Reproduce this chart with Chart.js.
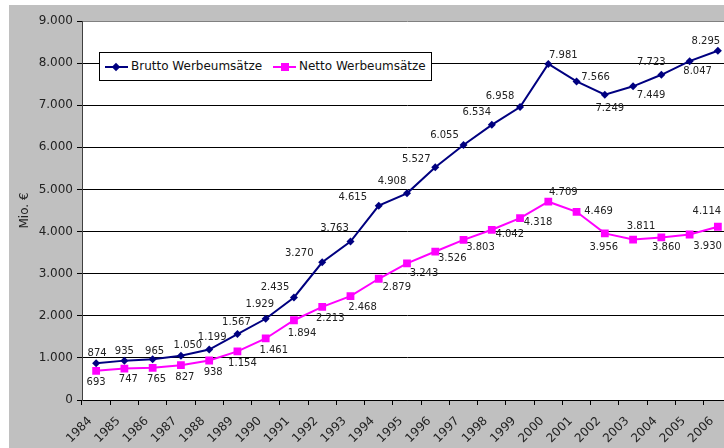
<!DOCTYPE html>
<html>
<head>
<meta charset="utf-8">
<script src="https://cdn.jsdelivr.net/npm/chart.js@4.4.1/dist/chart.umd.min.js"></script>
<style>
  html, body { margin: 0; padding: 0; background: #fff; overflow: hidden; }
  #wrap { position: relative; width: 724px; height: 448px; overflow: hidden; }
  #chart { position: absolute; left: 0; top: 0; }
  #legend {
    position: absolute; left: 99px; top: 52px; width: 331px; height: 27px;
    border: 1px solid #000; background: #fff;
    font: 12px "DejaVu Sans", Verdana, sans-serif; color: #111;
  }
  .item { position: absolute; top: 0; height: 27px; line-height: 27px; white-space: nowrap; }
  .sample { position: absolute; top: 13px; width: 23px; height: 2px; }
  .mark { position: absolute; }
  .label { position: absolute; top: 0; }
</style>
</head>
<body>
<div id="wrap">
  <canvas id="chart" width="740" height="448"></canvas>
  <div id="legend"></div>
</div>
<script>
// Werbeumsätze in Mio. €
const years = ["1984", "1985", "1986", "1987", "1988", "1989", "1990", "1991", "1992", "1993", "1994", "1995",
  "1996", "1997", "1998", "1999", "2000", "2001", "2002", "2003", "2004", "2005", "2006"];
const brutto = [874, 935, 965, 1050, 1199, 1567, 1929, 2435, 3270, 3763, 4615, 4908,
  5527, 6055, 6534, 6958, 7981, 7566, 7249, 7449, 7723, 8047, 8295];
const netto = [693, 747, 765, 827, 938, 1154, 1461, 1894, 2213, 2468, 2879, 3243,
  3526, 3803, 4042, 4318, 4709, 4469, 3956, 3811, 3860, 3930, 4114];
const yTicks = [0, 1000, 2000, 3000, 4000, 5000, 6000, 7000, 8000, 9000];

// where each value label sits relative to its point (px)
const bruttoLabelPos = [[1, -10], [0, -9], [2, -8], [7, -10], [3, -12], [-1, -12], [-6, -14], [-19, -10],
  [-23, -9], [-16, -13], [-26, -8], [-15, -12], [-19, -8], [-19, -10], [-15, -12], [-20, -11],
  [15, -9], [19, -4], [5, 14], [18, 9], [-10, -12], [8, 10], [-12, -9]];
const nettoLabelPos = [[0, 12], [4, 11], [4, 12], [4, 12], [4, 12], [5, 12], [8, 12], [8, 13],
  [8, 12], [12, 11], [18, 9], [17, 10], [17, 7], [17, 8], [18, 5], [18, 4],
  [15, -9], [22, 0], [-1, 14], [8, -13], [5, 10], [18, 12], [-11, -15]];

const FONT = "'DejaVu Sans', Verdana, sans-serif";

function fmt(v) {
  return String(v).replace(/\B(?=(\d{3})+(?!\d))/g, ".");
}

const backgroundPlugin = {
  id: "background",
  beforeDraw(chart) {
    const { ctx, chartArea } = chart;
    ctx.save();
    ctx.fillStyle = "#C0C0C0";
    ctx.fillRect(9, 5, chart.width, chart.height);
    ctx.fillStyle = "#FFFFFF";
    ctx.fillRect(chartArea.left, chartArea.top, chartArea.right - chartArea.left, chartArea.bottom - chartArea.top);
    ctx.restore();
  },
};

const valueLabels = {
  id: "valueLabels",
  afterDatasetsDraw(chart) {
    const ctx = chart.ctx;
    ctx.save();
    ctx.font = "10px " + FONT;
    ctx.fillStyle = "#222";
    ctx.textAlign = "center";
    ctx.textBaseline = "middle";
    chart.data.datasets.forEach((ds, i) => {
      const meta = chart.getDatasetMeta(i);
      meta.data.forEach((pt, j) => {
        const off = ds.labelPos[j];
        ctx.fillText(fmt(ds.data[j]), pt.x + off[0], pt.y + off[1]);
      });
    });
    ctx.restore();
  },
};

const chart = new Chart(document.getElementById("chart").getContext("2d"), {
  type: "line",
  data: {
    labels: years,
    datasets: [
      {
        label: "Brutto Werbeumsätze",
        data: brutto,
        labelPos: bruttoLabelPos,
        borderColor: "#000080",
        backgroundColor: "#000080",
        borderWidth: 2,
        pointStyle: "rectRot",
        pointRadius: 4,
        pointBorderWidth: 0,
        tension: 0,
      },
      {
        label: "Netto Werbeumsätze",
        data: netto,
        labelPos: nettoLabelPos,
        borderColor: "#FF00FF",
        backgroundColor: "#FF00FF",
        borderWidth: 2,
        pointStyle: "rect",
        pointRadius: 5.5,
        pointBorderWidth: 0,
        tension: 0,
      },
    ],
  },
  options: {
    responsive: false,
    animation: false,
    layout: { padding: { left: 0, top: 21, right: 8, bottom: 0 } },
    plugins: {
      legend: { display: false },
      tooltip: { enabled: false },
    },
    scales: {
      x: {
        offset: true,
        grid: {
          display: true,
          offset: true,
          drawOnChartArea: false,
          tickLength: 5,
          tickColor: "#000",
        },
        border: { color: "#000", width: 1 },
        ticks: {
          autoSkip: false,
          minRotation: 45,
          maxRotation: 45,
          padding: 9,
          labelOffset: -6,
          color: "#222",
          font: { family: FONT, size: 12 },
        },
        afterFit(scale) {
          scale.height = 48;
        },
      },
      y: {
        min: 0,
        max: 9000,
        afterBuildTicks(scale) {
          scale.ticks = yTicks.map((v) => ({ value: v }));
        },
        grid: {
          color: (c) => (c.tick && c.tick.value === 9000 ? "#808080" : "#000"),
          lineWidth: 1,
          tickLength: 5,
          tickColor: "#000",
        },
        border: { color: "#404040", width: 1 },
        ticks: {
          padding: 4,
          color: "#222",
          font: { family: FONT, size: 12 },
          callback: (v) => fmt(v),
        },
        title: {
          display: true,
          text: "Mio. €",
          color: "#222",
          font: { family: FONT, size: 12 },
          padding: { top: 18, bottom: 0 },
        },
        afterFit(scale) {
          scale.width = 82;
        },
      },
    },
  },
  plugins: [backgroundPlugin, valueLabels],
});

// legend box inside the plot, built from the datasets
const legendEl = document.getElementById("legend");
const legendX = [5, 173];
chart.data.datasets.forEach((ds, i) => {
  const item = document.createElement("div");
  item.className = "item";
  item.style.left = legendX[i] + "px";

  const sample = document.createElement("div");
  sample.className = "sample";
  sample.style.background = ds.borderColor;
  item.appendChild(sample);

  const mark = document.createElement("div");
  mark.className = "mark";
  mark.style.background = ds.backgroundColor;
  if (ds.pointStyle === "rectRot") {
    mark.style.width = "6px";
    mark.style.height = "6px";
    mark.style.left = "8px";
    mark.style.top = "11px";
    mark.style.transform = "rotate(45deg)";
  } else {
    mark.style.width = "8px";
    mark.style.height = "8px";
    mark.style.left = "8px";
    mark.style.top = "10px";
  }
  item.appendChild(mark);

  const text = document.createElement("span");
  text.className = "label";
  text.style.left = "26px";
  text.textContent = ds.label;
  item.appendChild(text);

  legendEl.appendChild(item);
});
</script>
</body>
</html>
